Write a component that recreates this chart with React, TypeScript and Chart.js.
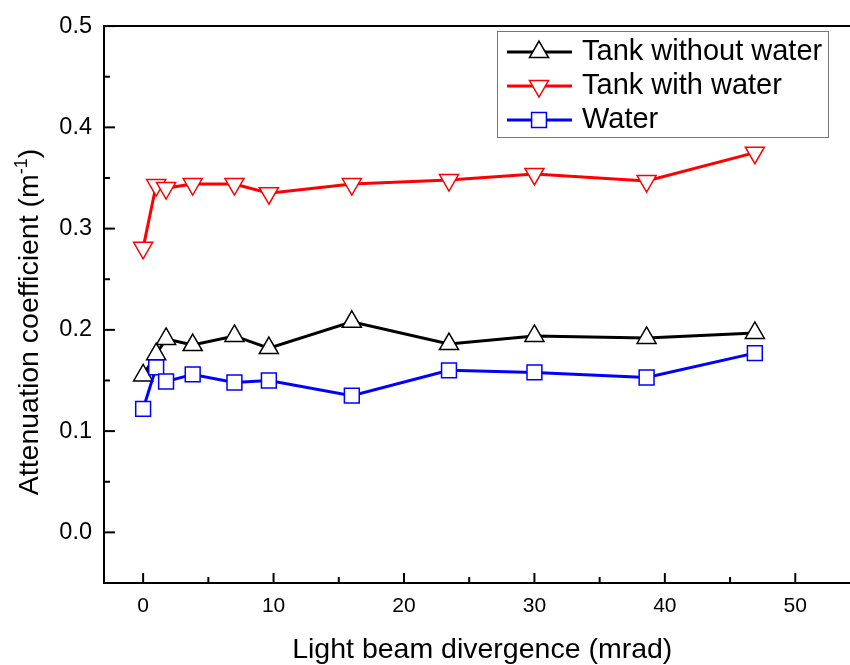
import React, { useEffect, useRef } from 'react';
import { Chart, registerables } from 'chart.js';
import { drawPoint } from 'chart.js/helpers';

Chart.register(...registerables);

// ---------- data ----------
const divergence = [0, 1, 1.76, 3.8, 7, 9.64, 16, 23.45, 30, 38.6, 46.9];
const tankWithoutWater = [0.155, 0.176, 0.191, 0.185, 0.194, 0.182, 0.208, 0.186, 0.194, 0.192, 0.197];
const tankWithWater = [0.281, 0.343, 0.340, 0.344, 0.344, 0.335, 0.344, 0.348, 0.354, 0.347, 0.375];
const water = [0.122, 0.163, 0.149, 0.156, 0.148, 0.150, 0.135, 0.160, 0.158, 0.153, 0.177];
const seriesNames = ['Tank without water', 'Tank with water', 'Water'];
const xTitle = 'Light beam divergence (mrad)';
const yTitleMain = 'Attenuation coefficient (m';
const yTitleSup = '-1';
const yTitleEnd = ')';

const FONT = "'Liberation Sans', Arial, Helvetica, sans-serif";
// canvas is wider than the 850px view: the plot frame runs past the right edge, as in the reference
const W = 873;
const H = 665;

const toPoints = (ys: number[]) => divergence.map((x, i) => ({ x, y: ys[i] }));

const decorPlugin = {
  id: 'decor',
  afterDraw(chart: any) {
    const { ctx, chartArea, scales } = chart;
    const xs = scales.x;
    const ys = scales.y;
    ctx.save();
    ctx.strokeStyle = '#000';
    ctx.lineWidth = 2;
    ctx.lineCap = 'butt';
    // top border
    ctx.beginPath();
    ctx.moveTo(chartArea.left - 1, chartArea.top);
    ctx.lineTo(chartArea.right, chartArea.top);
    ctx.stroke();
    // x ticks (inward)
    xs.ticks.forEach((t: any) => {
      const px = xs.getPixelForValue(t.value);
      const major = Math.round(t.value) % 10 === 0;
      ctx.beginPath();
      ctx.moveTo(px, chartArea.bottom);
      ctx.lineTo(px, chartArea.bottom - (major ? 10 : 6));
      ctx.stroke();
    });
    // y ticks (inward)
    ys.ticks.forEach((t: any) => {
      const py = ys.getPixelForValue(t.value);
      const major = Math.round(t.value * 100) % 10 === 0;
      ctx.beginPath();
      ctx.moveTo(chartArea.left, py);
      ctx.lineTo(chartArea.left + (major ? 11 : 6), py);
      ctx.stroke();
    });

    // x title
    ctx.fillStyle = '#000';
    ctx.font = `28.5px ${FONT}`;
    ctx.textAlign = 'center';
    ctx.textBaseline = 'alphabetic';
    ctx.fillText(xTitle, (chartArea.left + chartArea.right) / 2, 658);

    // y title (rotated, with superscript)
    ctx.save();
    ctx.translate(38, 322);
    ctx.rotate(-Math.PI / 2);
    ctx.textAlign = 'left';
    ctx.font = `28.5px ${FONT}`;
    const w1 = ctx.measureText(yTitleMain).width;
    const w3 = ctx.measureText(yTitleEnd).width;
    ctx.font = `18px ${FONT}`;
    const w2 = ctx.measureText(yTitleSup).width;
    let tx = -(w1 + w2 + w3) / 2;
    ctx.font = `28.5px ${FONT}`;
    ctx.fillText(yTitleMain, tx, 0);
    tx += w1;
    ctx.font = `18px ${FONT}`;
    ctx.fillText(yTitleSup, tx, -11);
    tx += w2;
    ctx.font = `28.5px ${FONT}`;
    ctx.fillText(yTitleEnd, tx, 0);
    ctx.restore();

    // legend
    const bx = 497.5, by = 31.5, bw = 331, bh = 106;
    ctx.fillStyle = '#fff';
    ctx.fillRect(bx, by, bw, bh);
    ctx.strokeStyle = '#777';
    ctx.lineWidth = 1;
    ctx.strokeRect(bx, by, bw, bh);
    chart.data.datasets.forEach((ds: any, i: number) => {
      const rowY = 52 + i * 34;
      ctx.strokeStyle = ds.borderColor;
      ctx.lineWidth = ds.borderWidth;
      ctx.beginPath();
      ctx.moveTo(507, rowY);
      ctx.lineTo(572, rowY);
      ctx.stroke();
      ctx.fillStyle = ds.pointBackgroundColor;
      ctx.strokeStyle = ds.pointBorderColor;
      ctx.lineWidth = ds.pointBorderWidth;
      drawPoint(ctx, {
        pointStyle: ds.pointStyle,
        rotation: ds.pointRotation || 0,
        radius: ds.pointRadius,
        borderWidth: ds.pointBorderWidth,
      } as any, 539, rowY);
      ctx.fillStyle = '#000';
      ctx.font = `29px ${FONT}`;
      ctx.textAlign = 'left';
      ctx.textBaseline = 'alphabetic';
      ctx.fillText(seriesNames[i], 582, rowY + 8);
    });
    ctx.restore();
  },
};

export default function App() {
  const ref = useRef<HTMLCanvasElement>(null);
  useEffect(() => {
    if (!ref.current) return;
    const chart = new Chart(ref.current, {
      type: 'line',
      data: {
        datasets: [
          {
            label: seriesNames[0],
            data: toPoints(tankWithoutWater),
            borderColor: '#000000',
            borderWidth: 3,
            pointStyle: 'triangle',
            pointRotation: 0,
            pointRadius: 11,
            pointBorderWidth: 1.5,
            pointBorderColor: '#000000',
            pointBackgroundColor: '#ffffff',
            tension: 0,
            order: 2,
            clip: false,
          },
          {
            label: seriesNames[1],
            data: toPoints(tankWithWater),
            borderColor: '#ff0000',
            borderWidth: 3,
            pointStyle: 'triangle',
            pointRotation: 180,
            pointRadius: 11,
            pointBorderWidth: 1.5,
            pointBorderColor: '#ff0000',
            pointBackgroundColor: '#ffffff',
            tension: 0,
            order: 1,
            clip: false,
          },
          {
            label: seriesNames[2],
            data: toPoints(water),
            borderColor: '#0000ff',
            borderWidth: 3,
            pointStyle: 'rect',
            pointRotation: 0,
            pointRadius: 10.5,
            pointBorderWidth: 1.5,
            pointBorderColor: '#0000ff',
            pointBackgroundColor: '#ffffff',
            tension: 0,
            order: 0,
            clip: false,
          },
        ] as any,
      },
      options: {
        animation: false,
        responsive: false,
        devicePixelRatio: 1,
        layout: { padding: { top: 20, left: 0, right: 0, bottom: 0 } },
        plugins: {
          legend: { display: false },
          tooltip: { enabled: false },
        },
        scales: {
          x: {
            type: 'linear',
            min: -3,
            max: 55,
            grid: { display: false, drawTicks: false },
            border: { display: true, color: '#000', width: 2 },
            ticks: {
              stepSize: 5,
              includeBounds: false,
              autoSkip: false,
              maxRotation: 0,
              padding: 11,
              color: '#000',
              font: { family: FONT, size: 21 },
              callback: (v: any) => (Math.round(v) % 10 === 0 ? String(Math.round(v)) : ''),
            },
            afterFit: (s: any) => { s.height = 82; },
          },
          y: {
            type: 'linear',
            min: -0.05,
            max: 0.5,
            grid: { display: false, drawTicks: false },
            border: { display: true, color: '#000', width: 2 },
            ticks: {
              stepSize: 0.05,
              includeBounds: false,
              autoSkip: false,
              padding: 12,
              color: '#000',
              font: { family: FONT, size: 23.5 },
              callback: (v: any) => {
                const r = Math.round(Number(v) * 100);
                return r % 10 === 0 && r >= 0 ? (r / 100).toFixed(1) : '';
              },
            },
            afterFit: (s: any) => { s.width = 104; },
          },
        },
      } as any,
      plugins: [decorPlugin],
    });
    return () => chart.destroy();
  }, []);
  return (
    <div style={{ position: 'fixed', left: 0, top: 0, width: 850, height: 665, overflow: 'hidden', background: '#fff' }}>
      <div style={{ width: W, height: H }}>
        <canvas ref={ref} width={W} height={H} style={{ display: 'block', width: W, height: H }} />
      </div>
    </div>
  );
}
